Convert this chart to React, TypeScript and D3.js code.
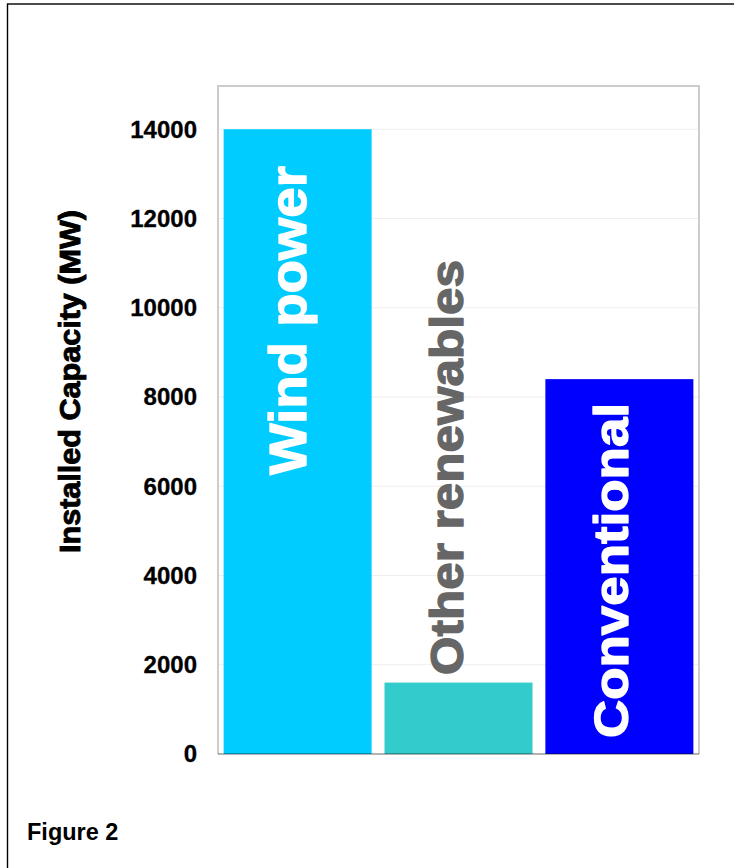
import React from 'react'
import * as d3 from 'd3'

// values (MW)
const categories = ['Wind power', 'Other renewables', 'Conventional']
const capacity = [14000, 1600, 8400]
const barColors = ['#00ccff', '#33cccc', '#0000ff']
const labelColors = ['#ffffff', '#666666', '#ffffff']
const yTicks = [0, 2000, 4000, 6000, 8000, 10000, 12000, 14000]

// label placement tweaks: [baseline offset from band centre, start above axis, font size, text length]
const labelLayout: Array<[number, number, number, number]> = [
  [8.5, 279, 52, 309],
  [4.5, 79, 46, 415],
  [9, 16, 49, 335]
]

const W = 734
const H = 868
const font = '"Liberation Sans", Arial, Helvetica, sans-serif'

const App: React.FC = () => {
  const plot = { left: 218, right: 699, top: 86, bottom: 754 }

  const x = d3.scaleBand<string>()
    .domain(categories)
    .range([plot.left, plot.right])
    .paddingInner(0.08)
    .paddingOuter(0.035)

  const y = d3.scaleLinear()
    .domain([0, 15000])
    .range([plot.bottom, 84.6])

  return (
    <svg
      width={W}
      height={H}
      style={{ position: 'absolute', left: 0, top: 0, background: '#fff' }}
      fontFamily={font}
    >
      {/* outer figure border */}
      <rect x={7.5} y={4} width={800} height={900} fill="none" stroke="#000" strokeWidth={1.4} />

      {/* gridlines */}
      {yTicks.filter(t => t > 0).map(t => (
        <line key={t} x1={plot.left} x2={plot.right} y1={y(t)} y2={y(t)} stroke="#eeeeee" strokeWidth={1.2} />
      ))}

      {/* plot frame */}
      <path
        d={`M${plot.left},${plot.bottom}V${plot.top}H${plot.right}V${plot.bottom}`}
        fill="none"
        stroke="#cccccc"
        strokeWidth={2}
      />

      {/* bars */}
      {categories.map((c, i) => (
        <rect
          key={c}
          x={x(c)}
          y={y(capacity[i])}
          width={x.bandwidth()}
          height={y(0) - y(capacity[i])}
          fill={barColors[i]}
        />
      ))}

      {/* x axis line */}
      <line x1={plot.left} x2={plot.right} y1={y(0)} y2={y(0)} stroke="rgba(0,0,0,0.4)" strokeWidth={1.6} />

      {/* bar labels */}
      {categories.map((c, i) => {
        const [dx, up, size, len] = labelLayout[i]
        const lx = (x(c) as number) + x.bandwidth() / 2 + dx
        const ly = y(0) - up
        return (
          <text
            key={c}
            transform={`translate(${lx},${ly}) rotate(-90)`}
            fill={labelColors[i]}
            stroke={labelColors[i]}
            strokeWidth={1.3}
            strokeLinejoin="round"
            fontSize={size}
            fontWeight="bold"
            textLength={len}
            lengthAdjust="spacingAndGlyphs"
          >
            {c}
          </text>
        )
      })}

      {/* y tick labels */}
      {yTicks.map(t => (
        <text
          key={t}
          x={197}
          y={y(t)}
          dy="0.35em"
          textAnchor="end"
          fontSize={24}
          fontWeight="bold"
          fill="#000"
          stroke="#000"
          strokeWidth={0.3}
        >
          {t}
        </text>
      ))}

      {/* y axis title */}
      <text
        transform={`translate(80,553) rotate(-90)`}
        fontSize={29.5}
        fontWeight="bold"
        fill="#000"
        stroke="#000"
        strokeWidth={0.9}
        textLength={343}
        lengthAdjust="spacingAndGlyphs"
      >
        Installed Capacity (MW)
      </text>

      <text x={27} y={840} fontSize={23.5} fontWeight="bold" fill="#000">
        Figure 2
      </text>
    </svg>
  )
}

export default App
